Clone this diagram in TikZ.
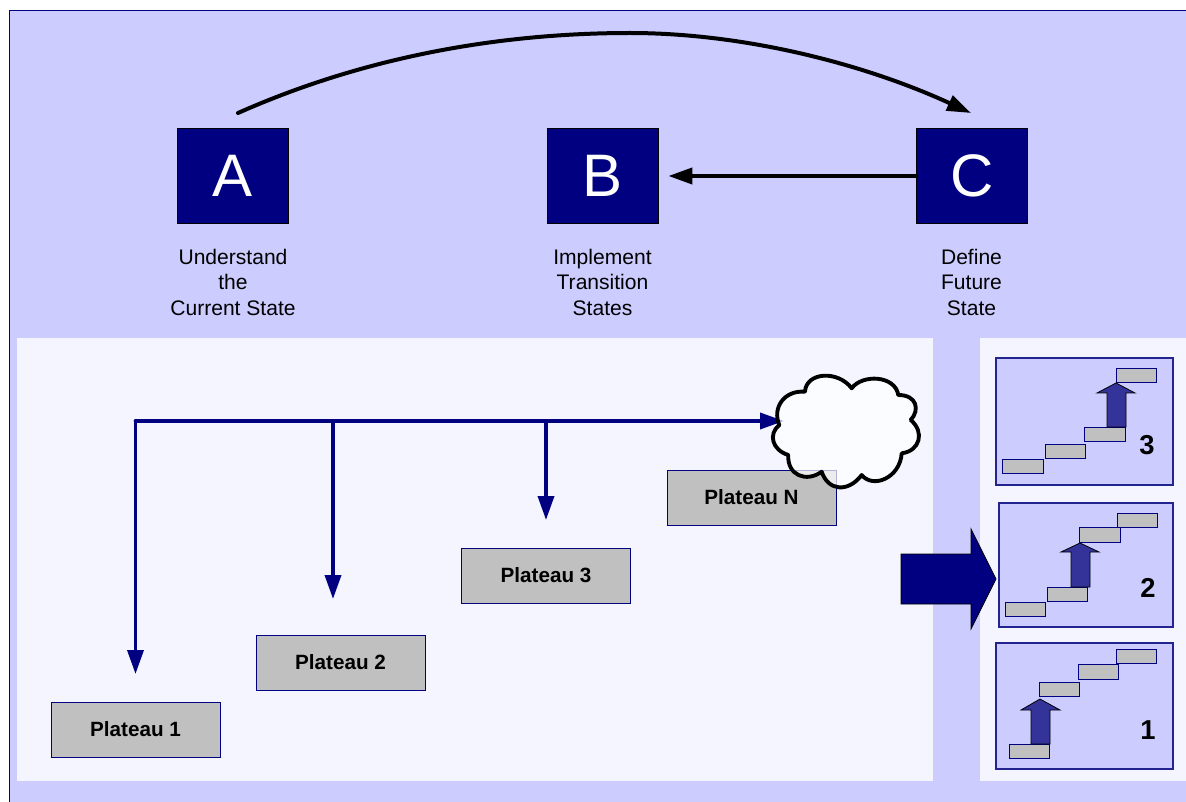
\documentclass[tikz,border=0pt]{standalone}
\usepackage{fontspec}
\usetikzlibrary{arrows.meta}
\setmainfont{Liberation Sans}
\definecolor{backblue}{HTML}{CCCCFF}
\definecolor{paleblue}{HTML}{F4F5FF}
\definecolor{darkblue}{HTML}{000080}
\definecolor{midblue}{HTML}{333399}
\definecolor{stepgrey}{HTML}{C0C0C0}
\begin{document}
\begin{tikzpicture}
[x=0.75pt,y=-0.75pt,%
  every node/.style={inner sep=0pt,outer sep=0pt},%
  letterbox/.style={fill=darkblue,draw=black,line width=0.6pt,minimum width=83.5pt,minimum height=71.5pt,text=white,font=\fontsize{45}{45}\selectfont},%
  caption/.style={align=center,font=\fontsize{15.8}{19.1}\selectfont},%
  plateau/.style={fill=stepgrey,draw=darkblue,line width=0.7pt,minimum width=126.75pt,minimum height=41.25pt,font=\fontsize{15.5}{18}\selectfont\bfseries},%
  miniframe/.style={fill=backblue,draw=midblue!70!darkblue,line width=1pt},%
  stepbox/.style={fill=stepgrey,draw=darkblue,line width=0.8pt,minimum width=30.5pt,minimum height=11pt},%
  stepup/.style={fill=midblue,draw=black,line width=0.6pt},%
  stepnum/.style={font=\fontsize{20.5}{20}\selectfont\bfseries},%
  flow/.style={-{Triangle[length=18pt,width=12pt]},draw=darkblue,line width=2.7pt,line cap=round},%
  blackflow/.style={-{Triangle[length=18pt,width=12pt]},draw=black,line width=3pt,line cap=round}]
\useasboundingbox (0,0) rectangle (1186,802);
% panels
\fill[backblue] (9.5,10.5) rectangle (1186,802);
\draw[darkblue,line width=0.8pt] (1186,10.5) -- (9.5,10.5) -- (9.5,802);
\fill[paleblue] (17,338) rectangle (933,781);
\fill[paleblue] (980,338) rectangle (1186,781);
% top row
\node[letterbox] (A) at (233,176) {A};
\node[letterbox] (B) at (602.7,176) {B};
\node[letterbox] (C) at (971.8,176) {C};
\node[caption,anchor=north] (Atext) at (233,249) {Understand\\the\\Current State};
\node[caption,anchor=north] (Btext) at (602.5,249) {Implement\\Transition\\States};
\node[caption,anchor=north] (Ctext) at (971.5,249) {Define\\Future\\State};
\coordinate (Aout) at (238,113);
\coordinate (Ctop) at (630,33);
\coordinate (Cin) at (971,113);
\draw[blackflow] (Aout) .. controls (380,50) and (520,33) .. (Ctop)
  .. controls (740,33) and (860,62) .. (Cin);
\draw[blackflow,shorten >=7.5pt] (C) -- (B);
% plateaus
\node[plateau] (p1) at (135.5,729.5) {Plateau 1};
\node[plateau] (p2) at (340.5,662.5) {Plateau 2};
\node[plateau] (p3) at (546,575.5) {Plateau 3};
\node[plateau] (pN) at (751.5,497.5) {Plateau N};
\coordinate (trunk) at (135.5,421);
\coordinate (drop2) at (333,421);
\coordinate (drop3) at (546,421);
\coordinate (end1) at (135.5,674);
\coordinate (end2) at (333,599);
\coordinate (end3) at (546,520);
\coordinate (endN) at (784,421);
\draw[flow] (trunk) -- (end1);
\draw[flow] (drop2) -- (end2);
\draw[flow] (drop3) -- (end3);
\draw[flow] (trunk) -- (endN);
% cloud
\draw[fill=white,fill opacity=0.7,draw=black,draw opacity=1,line width=2.9pt,line join=round]
  (779.3,425) .. controls (772,408) and (784,390) .. (805,391.7)
  .. controls (806,372) and (838,370) .. (851.7,388.3)
  .. controls (862,374) and (895,375) .. (898.3,395)
  .. controls (917,395) and (920,410) .. (910.7,420)
  .. controls (925,432) and (920,451) .. (901.7,453.3)
  .. controls (900,478) and (873,489) .. (861.7,475)
  .. controls (848,493) and (828,491) .. (821.7,471.7)
  .. controls (806,483) and (787,475) .. (788.3,455)
  .. controls (772,450) and (768,434) .. (779.3,425) -- cycle;
% big arrow
\draw[fill=darkblue,draw=black,line width=0.6pt]
  (901,554) -- (971,554) -- (971,529) -- (996,579) -- (971,629) -- (971,604) -- (901,604) -- cycle;
% stair 3
\draw[miniframe] (996,358) rectangle (1173,485);
\node[stepbox] (s3a) at (1023,466.5) {};
\node[stepbox] (s3b) at (1065.5,451.5) {};
\node[stepbox] (s3c) at (1105,434.5) {};
\node[stepbox] (s3d) at (1136.5,375.5) {};
\draw[stepup] (1116,383) -- (1135,393) -- (1126,393) -- (1126,427) -- (1107,427) -- (1107,393) -- (1097,393) -- cycle;
\node[stepnum] (n3) at (1147,445) {3};
% stair 2
\draw[miniframe] (999,503) rectangle (1173,627);
\node[stepbox] (s2a) at (1025.5,609.5) {};
\node[stepbox] (s2b) at (1067.5,594.5) {};
\node[stepbox] (s2c) at (1100,535) {};
\node[stepbox] (s2d) at (1137.5,520.5) {};
\draw[stepup] (1080,543) -- (1099,552) -- (1090,552) -- (1090,587) -- (1071,587) -- (1071,552) -- (1061,552) -- cycle;
\node[stepnum] (n2) at (1148,588) {2};
% stair 1
\draw[miniframe] (996,643) rectangle (1173,769);
\node[stepbox] (s1a) at (1029.5,751.5) {};
\node[stepbox] (s1b) at (1059.5,689.5) {};
\node[stepbox] (s1c) at (1098.5,672) {};
\node[stepbox] (s1d) at (1136.5,656.5) {};
\draw[stepup] (1040,699) -- (1060,710) -- (1050,710) -- (1050,744) -- (1031,744) -- (1031,710) -- (1021,710) -- cycle;
\node[stepnum] (n1) at (1148,730) {1};
\end{tikzpicture}
\end{document}
